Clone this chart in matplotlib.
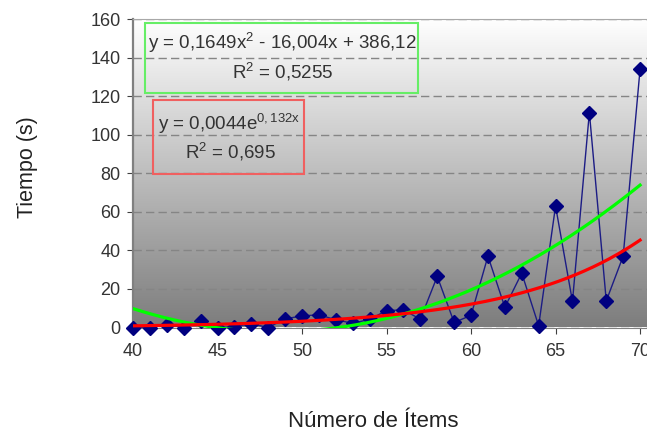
import matplotlib
matplotlib.use("Agg")
import matplotlib.pyplot as plt
import numpy as np
from matplotlib.colors import LinearSegmentedColormap
from matplotlib.patches import Rectangle

plt.rcParams['font.family'] = ['Liberation Sans', 'DejaVu Sans']
plt.rcParams['mathtext.fontset'] = 'custom'
plt.rcParams['mathtext.rm'] = 'Liberation Sans'
plt.rcParams['mathtext.it'] = 'Liberation Sans'

# datos
items = [40, 41, 42, 43, 44, 45, 46, 47, 48, 49, 50, 51, 52, 53, 54, 55,
         56, 57, 58, 59, 60, 61, 62, 63, 64, 65, 66, 67, 68, 69, 70]
tiempo = [0, 0, 1.5, 0, 3.2, 0, 0.4, 2, 0, 4.5, 6, 6.6, 4, 2.2, 4.2, 8.8,
          9.1, 4.3, 26.5, 2.6, 6.3, 37, 10.5, 28.2, 0.9, 63, 13.5, 111.5,
          13.8, 37, 134]

# lineas de tendencia (coeficientes de la ecuacion)
poli_coef = [0.1649, -16.004, 386.12]
exp_coef = [0.0044, 0.132]

xticks = [40, 45, 50, 55, 60, 65, 70]
yticks = [0, 20, 40, 60, 80, 100, 120, 140, 160]

W, H = 647, 433
fig = plt.figure(figsize=(W / 100, H / 100), dpi=100)
ax = fig.add_axes([133 / W, (H - 327.5) / H, (W - 133) / W, (327.5 - 19) / H])

# fondo degradado blanco -> gris
grad = LinearSegmentedColormap.from_list('fondo', ['#ffffff', '#7d7d7d'])
ax.imshow(np.linspace(0, 1, 256).reshape(-1, 1), cmap=grad, aspect='auto',
          extent=(0, 1, 0, 1), transform=ax.transAxes, zorder=0)

ax.yaxis.grid(True, linestyle=(0, (6, 3)), color='#858585', lw=1, zorder=1)
ax.set_axisbelow(True)

ax.plot(items, tiempo, color='#1c1c85', lw=1, marker='D', markersize=7,
        markerfacecolor='#000080', markeredgecolor='#000080', zorder=3,
        clip_on=False)

xs = np.linspace(40, 70, 300)
ax.plot(xs, np.polyval(poli_coef, xs), color='#00ff00', lw=2.3, zorder=4)
ax.plot(xs, exp_coef[0] * np.exp(exp_coef[1] * xs), color='#ff0000', lw=2.3, zorder=5)

ax.set_xlim(40, 70.41)
ax.set_ylim(0, 160)
ax.set_xticks(xticks)
ax.set_yticks(yticks)

ax.spines['right'].set_visible(False)
ax.spines['left'].set_color('#808080')
ax.spines['left'].set_linewidth(1.6)
ax.spines['top'].set_color('#a8a8a8')
ax.spines['bottom'].set_color('#808080')
ax.tick_params(axis='both', direction='out', length=4, color='#404040',
               labelsize=13, labelcolor='#333333')
ax.tick_params(axis='x', pad=7)
ax.tick_params(axis='y', pad=5)

# cajas de las ecuaciones
fig.patches.append(Rectangle((145 / W, 1 - 93 / H), 273 / W, 70 / H, fill=False,
                             edgecolor='#66ee66', lw=1.5, transform=fig.transFigure))
fig.patches.append(Rectangle((153 / W, 1 - 174 / H), 151 / W, 74 / H, fill=False,
                             edgecolor='#f06060', lw=1.5, transform=fig.transFigure))

tc = '#333333'
fig.text(282 / W, 1 - 43 / H, 'y = 0,1649x$^{2}$ - 16,004x + 386,12', ha='center',
         va='center', fontsize=13.5, color=tc)
fig.text(283 / W, 1 - 72 / H, 'R$^{2}$ = 0,5255', ha='center', va='center',
         fontsize=13.5, color=tc)
fig.text(229 / W, 1 - 124 / H, r'y = 0,0044e$^{\mathregular{0,132x}}$', ha='center',
         va='center', fontsize=13.5, color=tc)
fig.text(231 / W, 1 - 152 / H, 'R$^{2}$ = 0,695', ha='center', va='center',
         fontsize=13.5, color=tc)

fig.text(373 / W, 1 - 427 / H, 'Número de Ítems', ha='center', va='baseline',
         fontsize=16, color='#222222')
fig.text(27 / W, 1 - 167 / H, 'Tiempo (s)', ha='center', va='center', rotation=90,
         fontsize=15.5, color='#222222')

fig.savefig('out.png', dpi=100)
